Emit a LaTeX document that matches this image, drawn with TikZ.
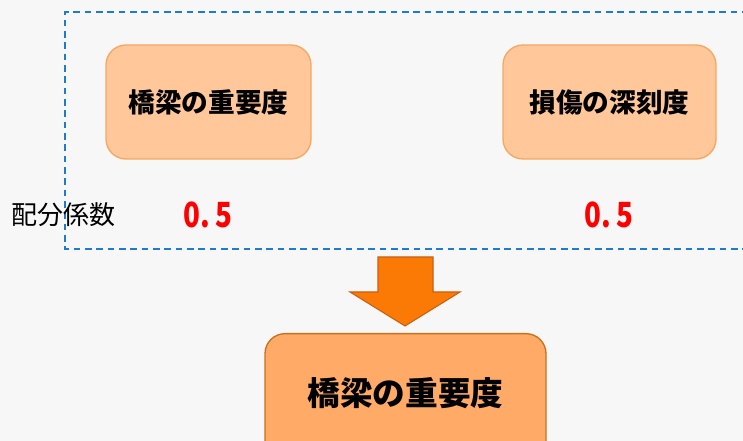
\documentclass[tikz,border=0pt]{standalone}
\usepackage{fontspec}
\newfontfamily\cjk{Noto Sans CJK JP}
\definecolor{bgc}{HTML}{F7F7F7}
\definecolor{dashc}{HTML}{1E7CD0}
\definecolor{boxfill}{HTML}{FFC79A}
\definecolor{boxline}{HTML}{F5A860}
\definecolor{bigfill}{HTML}{FFAA66}
\definecolor{bigline}{HTML}{C8701E}
\definecolor{arrfill}{HTML}{FA7A05}
\definecolor{arrline}{HTML}{C86010}
\tikzset{
  x=0.75pt, y=-0.75pt,
  topbox/.style={draw=boxline, line width=1pt, fill=boxfill, rounded corners=15pt,
    minimum height=114*0.75pt, inner sep=0pt,
    font=\cjk\bfseries\fontsize{20}{22}\selectfont},
  bigbox/.style={draw=bigline, line width=1pt, fill=bigfill, rounded corners=15pt,
    minimum width=281*0.75pt, minimum height=130*0.75pt, inner sep=0pt, anchor=north},
  bigtext/.style={font=\cjk\bfseries\fontsize{24.5}{27}\selectfont, inner sep=0pt},
  coef/.style={text=red, font=\cjk\bfseries\fontsize{26}{28}\selectfont, inner sep=0pt, xscale=0.8},
  lbl/.style={font=\cjk\fontsize{19.5}{22}\selectfont, inner sep=0pt}
}
\begin{document}
\begin{tikzpicture}
\fill[bgc] (0,0) rectangle (743,441);
\useasboundingbox (0,0) rectangle (743,441);
\draw[dashc, line width=1pt, dash pattern=on 5pt off 3.5pt] (760,12) -- (65,12) -- (65,249) -- (760,249);
\node[topbox, minimum width=205*0.75pt] (a) at (208.5,102) {橋梁の重要度};
\node[topbox, minimum width=213*0.75pt] (b) at (609.5,102) {損傷の深刻度};
\node[lbl, anchor=west] (c) at (11,215) {配分係数};
\node[coef] (ca) at (208,215) {0.\,5};
\node[coef] (cb) at (609,215) {0.\,5};
\draw[arrline, fill=arrfill, line width=0.8pt, line join=miter]
  (378,257) -- (433,257) -- (433,292) -- (460,292) -- (405,326) -- (350,292) -- (378,292) -- cycle;
\node[bigbox] (d) at (405.5,333) {};
\node[bigtext] (dt) at (405.5,393) {橋梁の重要度};
\end{tikzpicture}
\end{document}
